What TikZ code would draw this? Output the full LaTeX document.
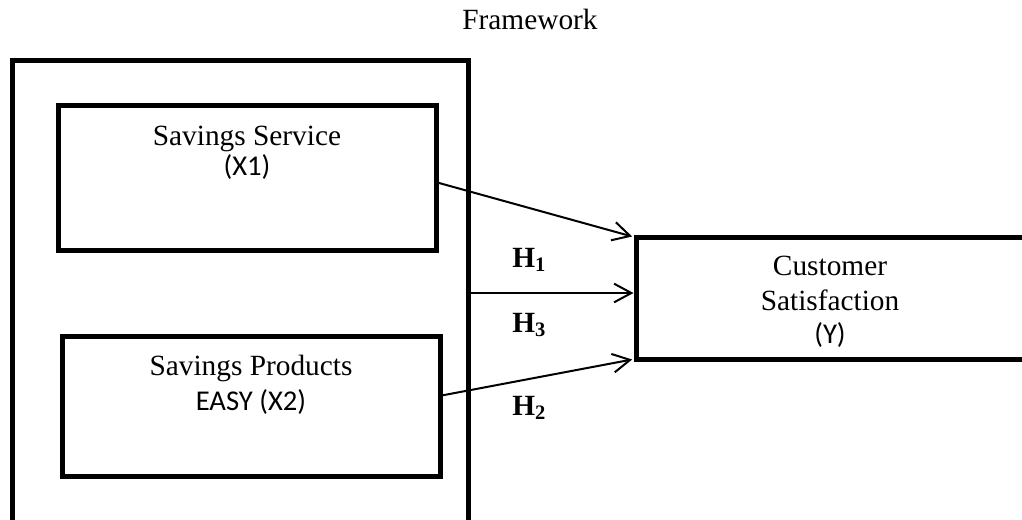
\documentclass[tikz,border=0pt]{standalone}
\usepackage{fontspec}
\setmainfont{Liberation Serif}
\newfontfamily\calfont{Carlito}
\usetikzlibrary{arrows.meta}
\begin{document}
\begin{tikzpicture}[x=0.75pt,y=-0.75pt,
  box/.style={draw,line width=3.75pt,rectangle,inner sep=0pt},
  link/.style={line width=1.5pt,-{Straight Barb[length=13pt,width=14pt,line width=1.5pt]}},
  serif/.style={font=\fontsize{22}{26}\selectfont,inner sep=0pt,anchor=base},
  sans/.style={font=\calfont\fontsize{21.5}{26}\selectfont,inner sep=0pt,anchor=base},
  hyp/.style={font=\bfseries\fontsize{22}{26}\selectfont,inner sep=0pt,anchor=base west}]
\useasboundingbox (0,0) rectangle (1022,519);
% heading
\node[serif] (title) at (530,29) {Framework};
% outer frame holding both independent variables
\node[box,minimum width=456*0.75pt,minimum height=462*0.75pt] (outer) at (240,291) {};
% independent variables
\node[box,minimum width=378*0.75pt,minimum height=145*0.75pt] (b1) at (247,177.5) {};
\node[serif] (b1a) at (247,145) {Savings Service};
\node[sans] (b1b) at (247,175) {(X1)};
\node[box,minimum width=378*0.75pt,minimum height=140*0.75pt] (b2) at (251,406) {};
\node[serif] (b2a) at (251,375) {Savings Products};
\node[sans] (b2b) at (251,410) {EASY (X2)};
% dependent variable
\node[box,minimum width=388*0.75pt,minimum height=122*0.75pt] (y) at (830,298) {};
\node[serif] (ya) at (830,275) {Customer};
\node[serif] (yb) at (830,310) {Satisfaction};
\node[sans] (yc) at (830,343) {(Y)};
% hypothesis paths
\draw[link] ([yshift=-4pt]b1.east) -- ([xshift=-1pt,yshift=-1.5pt]y.north west);
\draw[link] ([yshift=-1.5pt]outer.east) -- ([yshift=-1.5pt]outer.east -| y.west);
\draw[link] ([yshift=8pt]b2.east) -- ([xshift=-1pt,yshift=1.5pt]y.south west);
\node[hyp] (h1) at (512,267) {H\textsubscript{1}};
\node[hyp] (h3) at (512,332) {H\textsubscript{3}};
\node[hyp] (h2) at (512,415) {H\textsubscript{2}};
\end{tikzpicture}
\end{document}
